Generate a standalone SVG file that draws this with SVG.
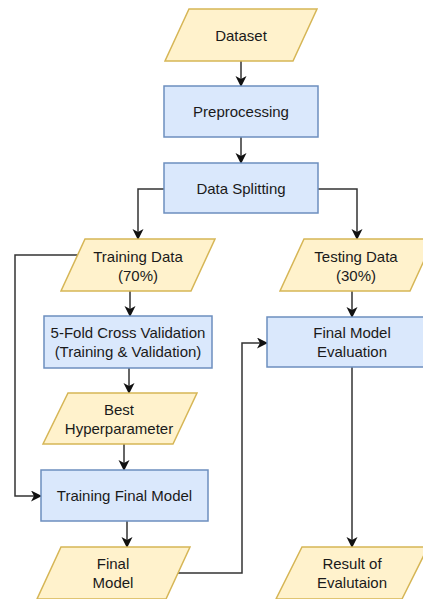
<svg xmlns="http://www.w3.org/2000/svg" width="423" height="599" viewBox="0 0 423 599">
  <defs>
    <marker id="arrow" markerWidth="12" markerHeight="12" refX="10" refY="5.5" orient="auto" markerUnits="userSpaceOnUse">
      <path d="M0,0 L11,5.5 L0,11 L3,5.5 Z" fill="#111"/>
    </marker>
    <style>
      .io { fill: #fff2cc; stroke: #d6b656; stroke-width: 1.5; }
      .proc { fill: #dae8fc; stroke: #6c8ebf; stroke-width: 1.5; }
      .lbl { font-family: "Liberation Sans", Arial, sans-serif; font-size: 15px; fill: #1a1a1a; text-anchor: middle; }
      .edge { fill: none; stroke: #333; stroke-width: 1.5; marker-end: url(#arrow); }
    </style>
  </defs>
  <rect width="423" height="599" fill="#ffffff"/>

  <g id="connectors">
    <path class="edge" d="M241,61 V86"/>
    <path class="edge" d="M241,137 V163"/>
    <path class="edge" d="M164,189 H138 V239"/>
    <path class="edge" d="M318,189 H357 V239"/>
    <path class="edge" d="M130,291 V316"/>
    <path class="edge" d="M78,255 H15 V496 H41"/>
    <path class="edge" d="M129,368 V393"/>
    <path class="edge" d="M124,444 V470"/>
    <path class="edge" d="M127,521 V547"/>
    <path class="edge" d="M178,573 H242 V343 H267"/>
    <path class="edge" d="M352,291 V317"/>
    <path class="edge" d="M352,367 V547"/>
  </g>

  <g id="dataset">
    <polygon class="io" points="189,9 317,9 293,61 165,61"/>
    <text class="lbl" x="241" y="40.5">Dataset</text>
  </g>

  <g id="preprocessing">
    <rect class="proc" x="164" y="86" width="154" height="51"/>
    <text class="lbl" x="241" y="117">Preprocessing</text>
  </g>

  <g id="data-splitting">
    <rect class="proc" x="164" y="163" width="154" height="50"/>
    <text class="lbl" x="241" y="193.5">Data Splitting</text>
  </g>

  <g id="training-data">
    <polygon class="io" points="85,239 215,239 191,291 61,291"/>
    <text class="lbl" x="138" y="261.5">Training Data</text>
    <text class="lbl" x="138" y="280.5">(70%)</text>
  </g>

  <g id="testing-data">
    <polygon class="io" points="304,239 434,239 410,291 280,291"/>
    <text class="lbl" x="356" y="261.5">Testing Data</text>
    <text class="lbl" x="356" y="280.5">(30%)</text>
  </g>

  <g id="cross-validation">
    <rect class="proc" x="44" y="316" width="168" height="52"/>
    <text class="lbl" x="128" y="338">5-Fold Cross Validation</text>
    <text class="lbl" x="128" y="357">(Training &amp; Validation)</text>
  </g>

  <g id="final-model-evaluation">
    <rect class="proc" x="267" y="317" width="170" height="50"/>
    <text class="lbl" x="352" y="338">Final Model</text>
    <text class="lbl" x="352" y="357">Evaluation</text>
  </g>

  <g id="best-hyperparameter">
    <polygon class="io" points="68,393 197,393 173,444 43,444"/>
    <text class="lbl" x="119" y="414.5">Best</text>
    <text class="lbl" x="119" y="433.5">Hyperparameter</text>
  </g>

  <g id="training-final-model">
    <rect class="proc" x="41" y="470" width="167" height="51"/>
    <text class="lbl" x="124.5" y="501">Training Final Model</text>
  </g>

  <g id="final-model">
    <polygon class="io" points="61,547 190,547 166,599 37,599"/>
    <text class="lbl" x="113" y="568.5">Final</text>
    <text class="lbl" x="113" y="587.5">Model</text>
  </g>

  <g id="result-of-evaluation">
    <polygon class="io" points="302,547 428,547 402,599 276,599"/>
    <text class="lbl" x="352" y="568.5">Result of</text>
    <text class="lbl" x="352" y="587.5">Evalutaion</text>
  </g>
</svg>
